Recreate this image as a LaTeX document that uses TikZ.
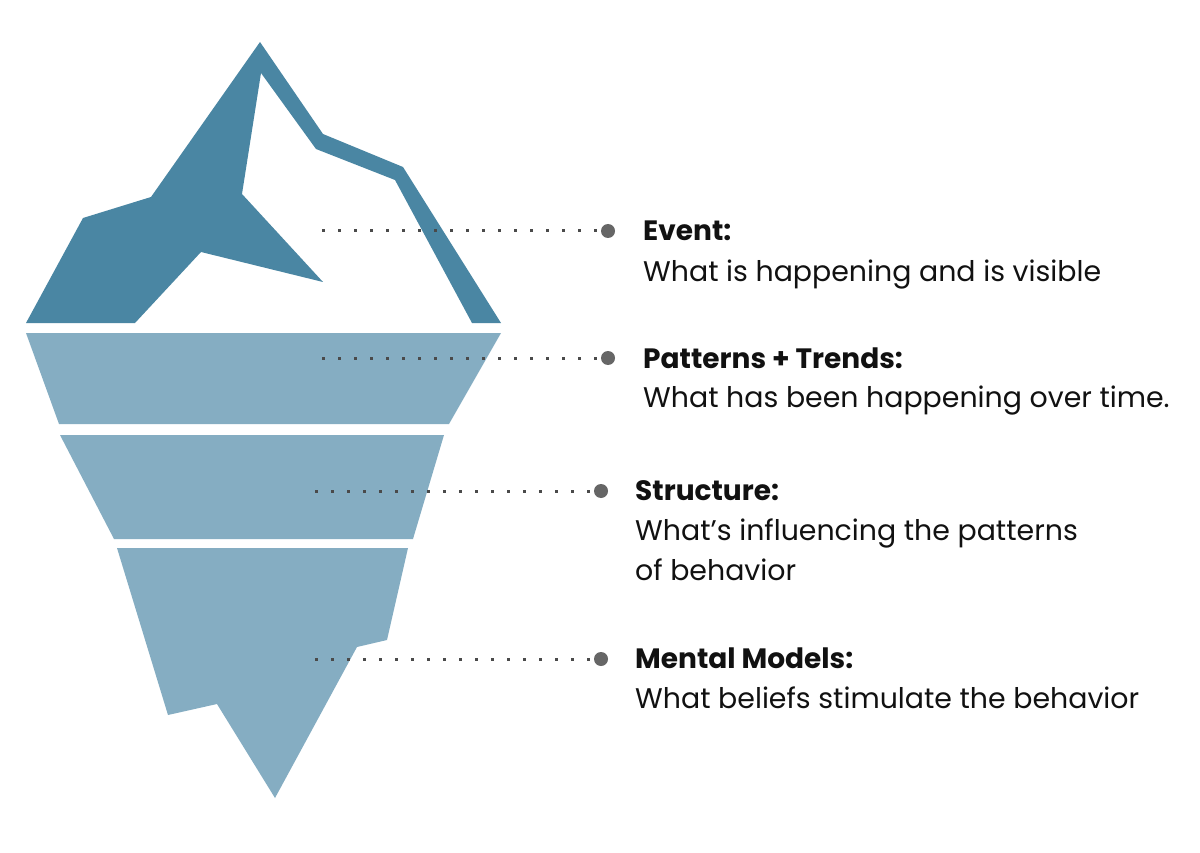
\documentclass[tikz,border=0pt]{standalone}
\usepackage{fontspec}
\setmainfont{Poppins}
\definecolor{icedark}{HTML}{4A86A3}
\definecolor{icelight}{HTML}{85ADC2}
\definecolor{dotgray}{HTML}{4A4A4A}
\definecolor{bulletgray}{HTML}{666666}
\definecolor{txt}{HTML}{111111}
\begin{document}
\begin{tikzpicture}[x=1pt,y=-1pt,
  dotline/.style={dotgray,line width=3pt,dash pattern=on 3pt off 13pt},
  bullet/.style={circle,fill=bulletgray,minimum size=14pt,inner sep=0pt},
  headtxt/.style={anchor=base west,inner sep=0pt,font=\fontsize{28}{34}\selectfont\bfseries,text=txt},
  bodytxt/.style={anchor=base west,inner sep=0pt,font=\fontsize{28.4}{40}\selectfont,text=txt,align=left}]
\useasboundingbox[fill=white] (0,0) rectangle (1200,853);
% tip of the iceberg
\fill[icedark] (260,42) -- (323,134) -- (403,167) -- (501,323) -- (472,323) -- (395,180)
  -- (316,149) -- (261,73) -- (242,194) -- (323,282) -- (201,252) -- (135,323)
  -- (26,323) -- (83,218) -- (151,197) -- cycle;
% bands below water
\fill[icelight] (26,333) -- (501,333) -- (449,424) -- (59,424) -- cycle;
\fill[icelight] (60,435) -- (444,435) -- (413,539) -- (114,539) -- cycle;
\fill[icelight] (117,548) -- (408,548) -- (387,640) -- (357,647) -- (275,798)
  -- (217,704) -- (168,715) -- cycle;
% bullets
\node[bullet] (b1) at (608,231) {};
\node[bullet] (b2) at (608,358) {};
\node[bullet] (b3) at (601,491) {};
\node[bullet] (b4) at (601,659) {};
\coordinate (s1) at (322,231);
\coordinate (s2) at (322,358);
\coordinate (s3) at (315,491);
\coordinate (s4) at (315,659);
\draw[dotline] (s1) -- (b1.west);
\draw[dotline] (s2) -- (b2.west);
\draw[dotline] (s3) -- (b3.west);
\draw[dotline] (s4) -- (b4.west);
% texts
\node[headtxt] (h1) at (643,241) {Event:};
\node[bodytxt] (t1) at (643,281) {What is happening and is visible};
\node[headtxt] (h2) at (643,368) {Patterns + Trends:};
\node[bodytxt] (t2) at (643,407) {What has been happening over time.};
\node[headtxt] (h3) at (635,500) {Structure:};
\node[bodytxt] (t3) at (635,580) {What’s influencing the patterns\\of behavior};
\node[headtxt] (h4) at (635,668) {Mental Models:};
\node[bodytxt] (t4) at (635,708) {What beliefs stimulate the behavior};
\end{tikzpicture}
\end{document}
